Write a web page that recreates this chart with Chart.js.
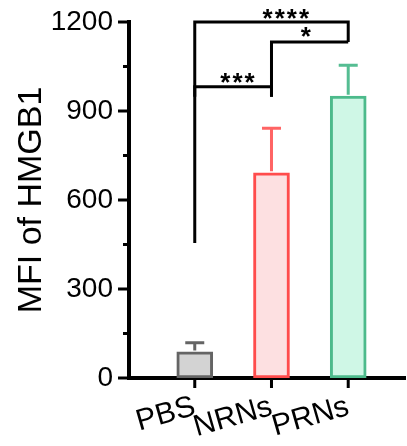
<!DOCTYPE html>
<html lang="en">
    <head>
        <meta charset="UTF-8" />
        <title>MFI of HMGB1</title>
        <script src="https://cdn.jsdelivr.net/npm/chart.js"></script>
        <style>
            html, body { margin: 0; padding: 0; background: #fff; }
            #chart { width: 407px; height: 446px; }
        </style>
    </head>
    <body>
        <div id="chart">
            <canvas id="myChart" width="407" height="446"></canvas>
        </div>
        <script>
            // Data
            const categories = ["PBS", "NRNs", "PRNs"];
            const means = [88, 692, 950];
            const errorTops = [119, 842, 1054];
            const yTicks = [0, 300, 600, 900, 1200];

            const fills = ["#d3d3d3", "#fde0e1", "#cff7e6"];
            const borders = ["#646464", "#ff4c4c", "#4cba8b"];
            const errColors = ["#646464", "#ff6464", "#55bd92"];

            // significance brackets, as paths in (category index, value)
            const brackets = [
                { path: [[0, 455], [0, 1200], [2, 1200], [2, 1133]] },
                { path: [[1, 948], [1, 1133], [2, 1133]] },
                { path: [[0, 948], [0, 982], [1, 982], [1, 948]] },
            ];
            const stars = [
                { text: "****", x: 1.2, y: 1229 },
                { text: "*", x: 1.46, y: 1166 },
                { text: "***", x: 0.57, y: 1011 },
            ];

            const extras = {
                id: "extras",
                afterDatasetsDraw(chart) {
                    const { ctx, scales } = chart;
                    const xs = scales.x, ys = scales.y;
                    ctx.save();
                    ctx.lineCap = "butt";

                    // error bars (upper only)
                    means.forEach((m, i) => {
                        const px = xs.getPixelForValue(i);
                        const y0 = ys.getPixelForValue(m);
                        const y1 = ys.getPixelForValue(errorTops[i]);
                        ctx.strokeStyle = errColors[i];
                        ctx.lineWidth = 3;
                        ctx.beginPath();
                        ctx.moveTo(px, y0 - 1.5);
                        ctx.lineTo(px, y1);
                        ctx.moveTo(px - 9.5, y1);
                        ctx.lineTo(px + 9.5, y1);
                        ctx.stroke();
                    });

                    // brackets
                    ctx.strokeStyle = "#000";
                    ctx.lineWidth = 3;
                    ctx.lineJoin = "miter";
                    brackets.forEach((b) => {
                        ctx.beginPath();
                        b.path.forEach(([vx, vy], k) => {
                            const px = xs.getPixelForValue(vx);
                            const py = ys.getPixelForValue(vy);
                            if (k === 0) ctx.moveTo(px, py);
                            else ctx.lineTo(px, py);
                        });
                        ctx.stroke();
                    });

                    ctx.fillStyle = "#000";
                    ctx.font = "bold 26px 'Liberation Sans', Arial";
                    ctx.textAlign = "center";
                    ctx.textBaseline = "middle";
                    ctx.letterSpacing = "2px";
                    stars.forEach((s) => {
                        ctx.fillText(
                            s.text,
                            xs.getPixelForValue(s.x),
                            ys.getPixelForValue(s.y) + 6
                        );
                    });

                    // tick marks
                    ctx.strokeStyle = "#000";
                    ctx.lineWidth = 3;
                    ctx.beginPath();
                    for (let v = 0; v <= 1200; v += 150) {
                        const py = ys.getPixelForValue(v);
                        const len = v % 300 === 0 ? 11 : 6;
                        ctx.moveTo(ys.right - 1, py);
                        ctx.lineTo(ys.right - len, py);
                    }
                    categories.forEach((c, i) => {
                        const px = xs.getPixelForValue(i);
                        ctx.moveTo(px, xs.top);
                        ctx.lineTo(px, xs.top + 10);
                    });
                    ctx.stroke();
                    ctx.restore();
                },
            };

            const ctx = document.getElementById("myChart").getContext("2d");
            new Chart(ctx, {
                type: "bar",
                data: {
                    datasets: [
                        {
                            data: means.map((m, i) => ({ x: i, y: m })),
                            backgroundColor: fills,
                            borderColor: borders,
                            borderWidth: 3,
                            borderSkipped: false,
                            barThickness: 36,
                        },
                    ],
                },
                options: {
                    responsive: false,
                    animation: false,
                    layout: { padding: { top: 22, right: 2, left: 0, bottom: 0 } },
                    plugins: {
                        legend: { display: false },
                        tooltip: { enabled: false },
                    },
                    scales: {
                        x: {
                            type: "linear",
                            offset: false,
                            min: -0.857,
                            max: 2.74,
                            afterBuildTicks: (scale) => {
                                scale.ticks = categories.map((c, i) => ({ value: i }));
                            },
                            afterFit: (scale) => {
                                scale.height = 68;
                                scale.paddingLeft = 0;
                                scale.paddingRight = 0;
                            },
                            ticks: {
                                callback: (v) => categories[v],
                                minRotation: 16,
                                maxRotation: 16,
                                color: "#000",
                                padding: 11,
                                font: { family: "'Liberation Sans', Arial", size: 30 },
                            },
                            grid: { display: false, drawTicks: false },
                            border: { display: true, color: "#000", width: 4 },
                        },
                        y: {
                            min: 0,
                            max: 1200,
                            afterBuildTicks: (scale) => {
                                scale.ticks = yTicks.map((v) => ({ value: v }));
                            },
                            afterFit: (scale) => {
                                scale.width = 129;
                                scale.paddingTop = 0;
                                scale.paddingBottom = 0;
                            },
                            ticks: {
                                callback: (v) => String(v),
                                color: "#000",
                                padding: 16,
                                font: { family: "'Liberation Sans', Arial", size: 28 },
                            },
                            grid: { display: false, drawTicks: false },
                            border: { display: true, color: "#000", width: 4 },
                            title: {
                                display: true,
                                text: "MFI of HMGB1",
                                color: "#000",
                                padding: { top: 11, bottom: 0 },
                                font: { family: "'Liberation Sans', Arial", size: 34 },
                            },
                        },
                    },
                },
                plugins: [extras],
            });
        </script>
    </body>
</html>
